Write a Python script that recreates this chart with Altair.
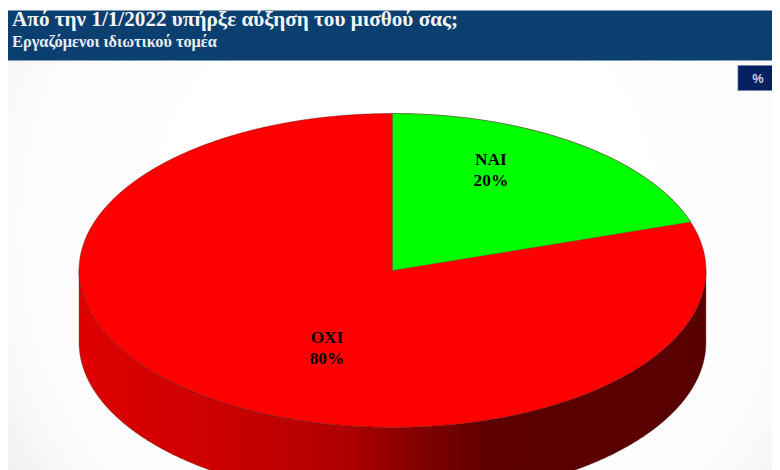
import numpy as np
import pandas as pd
import altair as alt

# ---- values ----
categories = ["ΝΑΙ", "ΟΧΙ"]
shares = [20, 80]
title_text = "Από την 1/1/2022 υπήρξε αύξηση του μισθού σας;"
subtitle_text = "Εργαζόμενοι ιδιωτικού τομέα"
unit_text = "%"

# ---- geometry of the tilted pie, in pie units (radius = 1) ----
W, H = 772, 470
S = 780 / 788  # the page is photographed fitted to the window width


def px(p):
    return p / S - 8


def py(p):
    return p / S - 10


RX_PX = 313.5 / S
CX_PX, CY_PX = px(392.5), py(270)
TILT = 157 / 313.5
DEPTH = 72 / 313.5
label_pos = [(0.314, 0.351), (-0.209, -0.217)]

x_scale = alt.Scale(domain=[-CX_PX / RX_PX, (W - CX_PX) / RX_PX], range=[0, W], nice=False, zero=False)
y_scale = alt.Scale(domain=[(CY_PX - H) / RX_PX, CY_PX / RX_PX], range=[H, 0], nice=False, zero=False)
X = alt.X("x:Q", scale=x_scale, axis=None)
Y = alt.Y("y:Q", scale=y_scale, axis=None)
Y2 = alt.Y2("y2:Q")

end_angle = 2 * np.pi * shares[0] / sum(shares)
t = np.linspace(-np.pi / 2, np.pi / 2, 721)
ex = np.sin(t)
upper = np.cos(t) * TILT
lower = -upper

disc = pd.DataFrame({"x": ex, "y": upper, "y2": lower})
wall = pd.DataFrame({"x": ex, "y": lower, "y2": lower - DEPTH})

tw = np.linspace(0, end_angle, 361)
wx = np.sin(tw)
wtop = np.cos(tw) * TILT
wedge = pd.DataFrame({"x": wx, "y": wtop, "y2": wtop[-1] * wx / wx[-1]})

labels = pd.DataFrame(
    {
        "x": [p[0] for p in label_pos],
        "y": [p[1] for p in label_pos],
        "text": [f"{c}\n{s}%" for c, s in zip(categories, shares)],
    }
)

one = alt.Data(values=[{"a": 1}])

background = (
    alt.Chart(one)
    .mark_rect(
        fill=alt.RadialGradient(
            gradient="radial",
            x1=0.52, y1=0.48, r1=0.3,
            x2=0.52, y2=0.48, r2=0.75,
            stops=[
                alt.GradientStop(offset=0, color="#ffffff"),
                alt.GradientStop(offset=0.5, color="#fbfbfb"),
                alt.GradientStop(offset=1, color="#dcdee0"),
            ],
        )
    )
    .encode(x=alt.value(0), x2=alt.value(W), y=alt.value(0), y2=alt.value(H))
)

header = (
    alt.Chart(one)
    .mark_rect(fill="#0b3f6f")
    .encode(x=alt.value(0), x2=alt.value(W), y=alt.value(0), y2=alt.value(py(59.5)))
)
header_line = (
    alt.Chart(one)
    .mark_rect(fill="#7f9ab8")
    .encode(x=alt.value(0), x2=alt.value(W), y=alt.value(py(59.5)), y2=alt.value(py(60.5)))
)
unit_box = (
    alt.Chart(one)
    .mark_rect(fill="#04205f", stroke="#6f83a8", strokeWidth=0.7)
    .encode(x=alt.value(px(738)), x2=alt.value(px(778)), y=alt.value(py(65)), y2=alt.value(py(90)))
)
unit_label = (
    alt.Chart(one)
    .mark_text(font="Liberation Sans", fontWeight="bold", fontSize=13, color="#c9d4e8", align="center", baseline="middle", text=unit_text)
    .encode(x=alt.value(px(758)), y=alt.value(py(78.5)))
)
title = (
    alt.Chart(one)
    .mark_text(font="Liberation Serif", fontWeight="bold", fontSize=21.4, color="#f4f6f8", align="left", baseline="alphabetic", text=title_text)
    .encode(x=alt.value(px(12)), y=alt.value(16))
)
subtitle = (
    alt.Chart(one)
    .mark_text(font="Liberation Serif", fontWeight="bold", fontSize=16.5, color="#e8edf2", align="left", baseline="alphabetic", text=subtitle_text)
    .encode(x=alt.value(px(12)), y=alt.value(37))
)

wall_fill = alt.LinearGradient(
    gradient="linear",
    x1=0, y1=0, x2=1, y2=0,
    stops=[
        alt.GradientStop(offset=0, color="#de0000"),
        alt.GradientStop(offset=0.22, color="#cc0000"),
        alt.GradientStop(offset=0.42, color="#b00000"),
        alt.GradientStop(offset=0.54, color="#820000"),
        alt.GradientStop(offset=0.66, color="#5c0000"),
        alt.GradientStop(offset=1, color="#580000"),
    ],
)

wall_mark = (
    alt.Chart(wall)
    .mark_area(fill=wall_fill, stroke="#5a3030", strokeWidth=0.4, clip=True)
    .encode(x=X, y=Y, y2=Y2)
)
disc_mark = (
    alt.Chart(disc)
    .mark_area(fill="#ff0000", stroke="#6a1010", strokeWidth=0.5, clip=True)
    .encode(x=X, y=Y, y2=Y2)
)
wedge_mark = (
    alt.Chart(wedge)
    .mark_area(fill="#00ff00", stroke="#4c6a4c", strokeWidth=0.5, clip=True)
    .encode(x=X, y=Y, y2=Y2)
)
label_mark = (
    alt.Chart(labels)
    .mark_text(font="Liberation Serif", fontWeight="bold", fontSize=17.5, color="#000000",
               align="center", baseline="middle", lineBreak="\n", lineHeight=21)
    .encode(x=X, y=Y, text="text:N")
)

chart = (
    alt.layer(background, wall_mark, disc_mark, wedge_mark, label_mark, header, header_line, unit_box, unit_label, title, subtitle)
    .resolve_scale(x="shared", y="shared")
    .properties(width=W, height=H, padding=0, autosize=alt.AutoSizeParams(type="none"))
    .configure_view(stroke=None)
)

chart.save("out.html", embed_options={"renderer": "svg", "actions": False})
